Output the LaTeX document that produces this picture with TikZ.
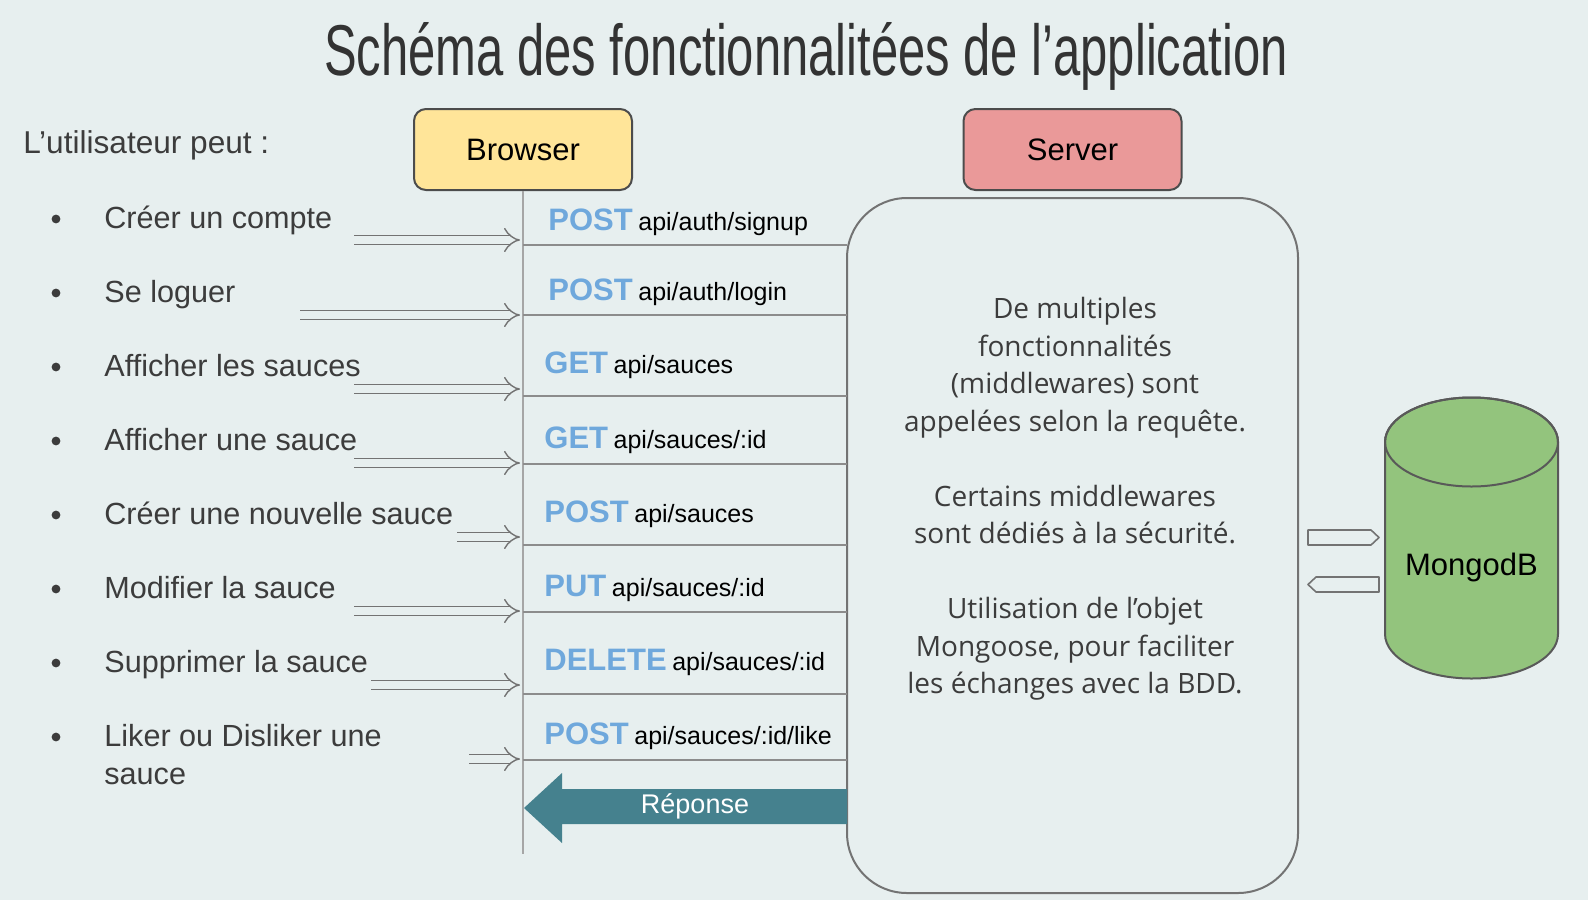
\documentclass[tikz,border=0pt]{standalone}
\usepackage{fontspec}
\setmainfont{Liberation Sans}
\newfontfamily\notefont{Open Sans}
\usetikzlibrary{arrows.meta}
\definecolor{bg}{HTML}{E7EFEF}
\definecolor{ink}{HTML}{3C3C3C}
\definecolor{browserfill}{HTML}{FFE599}
\definecolor{serverfill}{HTML}{EA9999}
\definecolor{mongofill}{HTML}{93C47D}
\definecolor{methodblue}{HTML}{6FA8DC}
\definecolor{reponsefill}{HTML}{45818E}
\definecolor{rulegray}{HTML}{8C8C8C}
\newcommand\meth[2]{{\fontsize{15.5}{18}\selectfont\bfseries\color{methodblue}#1} {\fontsize{12.5}{15}\selectfont #2}}
\tikzset{
  actor/.style={draw=black!70, line width=1pt, rounded corners=6pt, minimum width=109pt, minimum height=40.5pt, font=\fontsize{15.5}{18}\selectfont},
  item/.style={anchor=base west, inner sep=0pt, text=ink, font=\fontsize{15.3}{19}\selectfont},
  route/.style={anchor=base west, inner sep=0pt},
  rule/.style={draw=rulegray, line width=1pt},
  flow/.style={draw=black!55, line width=0.7pt, double=bg, double distance=3.6pt, -{Implies}, shorten >=1.5pt},
  dbarrow/.style={draw=black!55, fill=bg, line width=0.8pt, line join=round}
}
\begin{document}
\begin{tikzpicture}[x=0.5pt, y=-0.5pt]
\path[fill=bg, use as bounding box] (0,0) rectangle (1588,900);

\node[anchor=base, inner sep=0pt, text=black!80, font=\fontsize{36}{40}\selectfont] (title) at (806,75) {\scalebox{0.68}[1]{Schéma des fonctionnalitées de l’application}};

\node[item, font=\fontsize{15.8}{19}\selectfont] (intro) at (23,153) {L’utilisateur peut :};
\node[item] (it1) at (104,228) {Créer un compte};
\node[item] (it2) at (104,302) {Se loguer};
\node[item] (it3) at (104,376) {Afficher les sauces};
\node[item] (it4) at (104,450) {Afficher une sauce};
\node[item] (it5) at (104,524) {Créer une nouvelle sauce};
\node[item] (it6) at (104,598) {Modifier la sauce};
\node[item] (it7) at (104,672) {Supprimer la sauce};
\node[item, anchor=north west, align=left] (it8) at (104,724) {Liker ou Disliker une\\sauce};
\foreach \by in {219,293,367,441,515,589,663,737}
  \fill[ink] (56,\by) circle (2.2pt);

\node[actor, fill=browserfill] (browser) at (523,149.5) {Browser};
\node[actor, fill=serverfill] (server) at (1072.5,149.5) {Server};
\coordinate (bend) at (523,854);
\draw[draw=black!35, line width=1pt] (browser.south) -- (bend);

\node[draw=black!55, line width=1pt, rounded corners=30pt, minimum width=225.5pt, minimum height=347.5pt] (srv) at (1072.5,545.5) {};
\node[text=ink, align=center, font=\notefont\fontsize{14}{18.75}\selectfont] (notes) at (1075,499)
  {De multiples\\fonctionnalités\\(middlewares) sont\\appelées selon la requête.\\[18.75pt]Certains middlewares\\sont dédiés à la sécurité.\\[18.75pt]Utilisation de l’objet\\Mongoose, pour faciliter\\les échanges avec la BDD.};

\foreach \ly in {245,315,396,464,545,612,694,760}
  \draw[rule] (523,\ly) -- (847,\ly);

\node[route] (r1) at (548,230) {\meth{POST}{api/auth/signup}};
\node[route] (r2) at (548,300) {\meth{POST}{api/auth/login}};
\node[route] (r3) at (544,373) {\meth{GET}{api/sauces}};
\node[route] (r4) at (544,448) {\meth{GET}{api/sauces/:id}};
\node[route] (r5) at (544,522) {\meth{POST}{api/sauces}};
\node[route] (r6) at (544,596) {\meth{PUT}{api/sauces/:id}};
\node[route] (r7) at (544,670) {\meth{DELETE}{api/sauces/:id}};
\node[route] (r8) at (544,744) {\meth{POST}{api/sauces/:id/like}};

\foreach \ax/\ay [count=\i] in {354/240,300/315,354/389,354/463,457/537,354/611,371/685,469/759}{
  \coordinate (s\i) at (\ax,\ay);
  \draw[flow] (s\i) -- (s\i -| browser.south);
}

\fill[reponsefill] (847,789) -- (562,789) -- (562,773) -- (524,808) -- (562,843) -- (562,824) -- (847,824) -- cycle;
\node[text=white, font=\fontsize{13.5}{16}\selectfont] (reponse) at (695,806) {Réponse};

\path[fill=mongofill, draw=black!65, line width=1pt] (1385,442) -- (1385,634) arc[start angle=180, end angle=360, x radius=43.25pt, y radius=22.25pt] -- (1558,442) arc[start angle=0, end angle=180, x radius=43.25pt, y radius=22.25pt] -- cycle;
\draw[black!65, line width=1pt] (1471.5,442) ellipse [x radius=43.25pt, y radius=22.25pt];
\node[font=\fontsize{15.5}{18}\selectfont] (mongo) at (1471.5,567) {MongodB};

\draw[dbarrow] (1308,530) -- (1371,530) -- (1379,537.5) -- (1371,545) -- (1308,545) -- cycle;
\draw[dbarrow] (1379,577) -- (1316,577) -- (1308,584.5) -- (1316,592) -- (1379,592) -- cycle;
\end{tikzpicture}
\end{document}
